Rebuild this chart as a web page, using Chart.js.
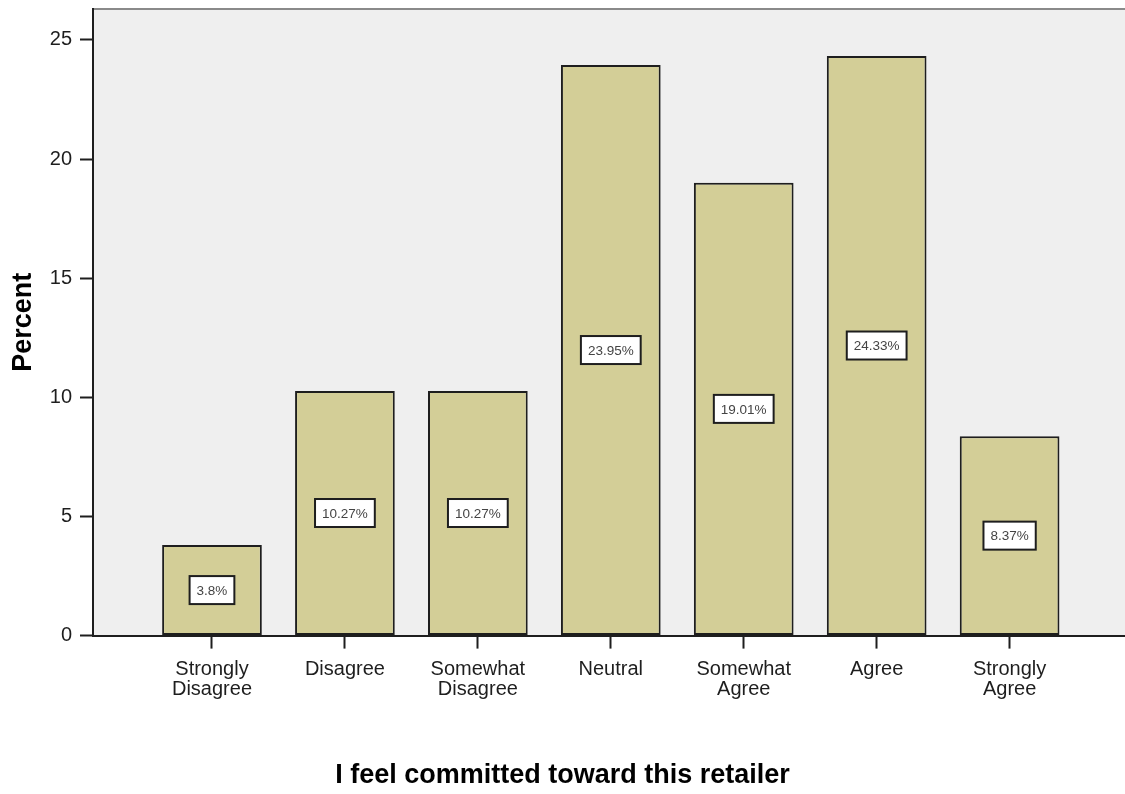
<!DOCTYPE html>
<html>
<head>
<meta charset="utf-8">
<script src="https://cdn.jsdelivr.net/npm/chart.js@4/dist/chart.umd.min.js"></script>
<style>
  html, body { margin: 0; padding: 0; background: #fff; }
  #wrap { width: 1125px; height: 794px; }
</style>
</head>
<body>
<div id="wrap"><canvas id="ch" width="1125" height="794"></canvas></div>
<script>
// response categories, one line per array entry
const categories = [
  ['Strongly', 'Disagree'],
  ['Disagree'],
  ['Somewhat', 'Disagree'],
  ['Neutral'],
  ['Somewhat', 'Agree'],
  ['Agree'],
  ['Strongly', 'Agree']
];
const percents = [3.8, 10.27, 10.27, 23.95, 19.01, 24.33, 8.37];
const valueLabels = ['3.8%', '10.27%', '10.27%', '23.95%', '19.01%', '24.33%', '8.37%'];
const yTickValues = [0, 5, 10, 15, 20, 25];

const FONT = '"Liberation Sans", Arial, sans-serif';
const INK = '#1e1e1e';

// grey plot panel with a thin frame on top
const panel = {
  id: 'panel',
  beforeDraw(chart) {
    const { ctx, chartArea: a } = chart;
    ctx.save();
    ctx.fillStyle = '#efefef';
    ctx.fillRect(a.left, a.top, a.right - a.left, a.bottom - a.top);
    ctx.strokeStyle = '#8a8a8a';
    ctx.lineWidth = 2;
    ctx.beginPath();
    ctx.moveTo(a.left, a.top);
    ctx.lineTo(a.right, a.top);
    ctx.stroke();
    ctx.restore();
  }
};

// boxed percentage in the middle of each bar
const boxLabels = {
  id: 'boxLabels',
  afterDatasetsDraw(chart) {
    const { ctx } = chart;
    const meta = chart.getDatasetMeta(0);
    ctx.save();
    ctx.font = '13.5px ' + FONT;
    ctx.textAlign = 'center';
    ctx.textBaseline = 'middle';
    meta.data.forEach((bar, i) => {
      const cy = (bar.y + bar.base) / 2;
      const txt = valueLabels[i];
      const w = ctx.measureText(txt).width + 14;
      const h = 28;
      ctx.fillStyle = '#fff';
      ctx.fillRect(bar.x - w / 2, cy - h / 2, w, h);
      ctx.strokeStyle = INK;
      ctx.lineWidth = 2;
      ctx.strokeRect(bar.x - w / 2, cy - h / 2, w, h);
      ctx.fillStyle = '#444';
      ctx.fillText(txt, bar.x, cy + 1);
    });
    ctx.restore();
  }
};

new Chart(document.getElementById('ch'), {
  type: 'bar',
  data: {
    datasets: [{
      data: percents.map((v, i) => ({ x: i, y: v })),
      backgroundColor: '#d3ce97',
      borderColor: INK,
      borderWidth: 2,
      borderSkipped: false,
      categoryPercentage: 1,
      barPercentage: 0.75
    }]
  },
  options: {
    responsive: false,
    animation: false,
    layout: { padding: { top: 9, right: 0, left: 0, bottom: 0 } },
    plugins: {
      legend: { display: false },
      tooltip: { enabled: false },
      title: {
        display: true,
        position: 'bottom',
        text: 'I feel committed toward this retailer',
        color: '#000',
        font: { family: FONT, size: 27, weight: 'bold' },
        padding: { top: 24, bottom: 2 }
      }
    },
    scales: {
      x: {
        type: 'linear',
        min: -0.895,
        max: 6.868,
        bounds: 'data',
        offset: false,
        afterBuildTicks: s => { s.ticks = categories.map((c, i) => ({ value: i })); },
        afterFit: s => { s.height = 100; s.paddingLeft = 0; s.paddingRight = 0; },
        ticks: {
          autoSkip: false,
          maxRotation: 0,
          padding: 11,
          color: INK,
          font: { family: FONT, size: 20, lineHeight: 1.0 },
          callback: v => categories[v] || ''
        },
        grid: { offset: false, drawOnChartArea: false, tickLength: 13, tickWidth: 2, tickColor: INK },
        border: { color: INK, width: 2 }
      },
      y: {
        min: 0,
        max: 26.3,
        bounds: 'data',
        afterBuildTicks: s => { s.ticks = yTickValues.map(v => ({ value: v })); },
        afterFit: s => { s.width = 93; s.paddingTop = 0; s.paddingBottom = 0; },
        ticks: {
          padding: 8,
          color: INK,
          font: { family: FONT, size: 20 }
        },
        grid: { drawOnChartArea: false, tickLength: 13, tickWidth: 2, tickColor: INK },
        border: { color: INK, width: 2 },
        title: {
          display: true,
          text: 'Percent',
          color: '#000',
          font: { family: FONT, size: 27, weight: 'bold' },
          padding: { top: 7, bottom: 0 }
        }
      }
    }
  },
  plugins: [panel, boxLabels]
});
</script>
</body>
</html>
